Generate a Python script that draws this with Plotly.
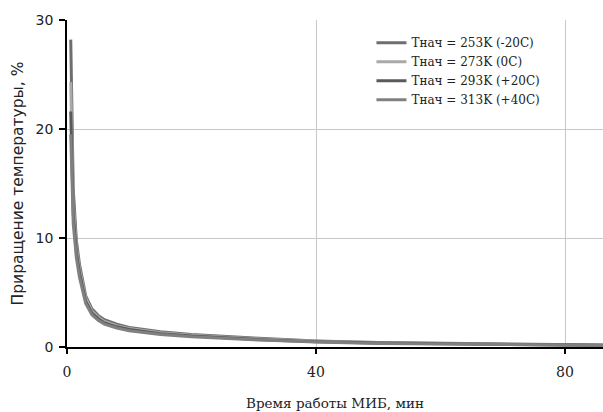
import plotly.graph_objects as go

t = [0.6, 1, 1.5, 2, 3, 4, 5, 6, 8, 10, 15, 20, 30, 40, 50, 60, 70, 80, 90]
names = ["Тнач = 253K (-20C)", "Тнач = 273K (0C)", "Тнач = 293K (+20C)", "Тнач = 313K (+40C)"]
v253 = [28.2, 14.5, 9.8, 7.6, 4.7, 3.5, 2.9, 2.5, 2.1, 1.8, 1.4, 1.15, 0.82, 0.56, 0.42, 0.33, 0.26, 0.2, 0.16]
v273 = [24.3, 13.2, 9.2, 7.2, 4.5, 3.3, 2.75, 2.35, 1.95, 1.7, 1.3, 1.08, 0.76, 0.52, 0.39, 0.3, 0.24, 0.18, 0.14]
v293 = [21.6, 12.2, 8.7, 6.8, 4.2, 3.1, 2.6, 2.2, 1.85, 1.6, 1.22, 1.0, 0.7, 0.48, 0.36, 0.28, 0.22, 0.17, 0.13]
v313 = [19.5, 11.3, 8.2, 6.4, 4.0, 2.95, 2.45, 2.1, 1.75, 1.5, 1.15, 0.94, 0.66, 0.45, 0.33, 0.26, 0.2, 0.15, 0.12]
series = [v253, v273, v293, v313]
colors = ["#6e6e6e", "#a9a9a9", "#5a5a5a", "#808080"]

fig = go.Figure()
for n, v, c in zip(names, series, colors):
    fig.add_trace(go.Scatter(x=t, y=v, mode="lines", name=n,
                             line=dict(color=c, width=3)))

fig.update_layout(
    width=603, height=412,
    margin=dict(l=67, r=0, t=20, b=65),
    paper_bgcolor="white", plot_bgcolor="white",
    showlegend=True,
    legend=dict(x=0.568, y=0.975, xanchor="left", yanchor="top",
                bgcolor="white", borderwidth=0,
                font=dict(family="DejaVu Serif", size=12, color="#222"),
                tracegroupgap=3, itemwidth=30),
    xaxis=dict(range=[0, 86.1], tickvals=[0, 40, 80],
               showgrid=True, gridcolor="#c8c8c8", gridwidth=1,
               showline=True, linecolor="black", linewidth=1.5,
               ticks="outside", ticklen=5, tickcolor="black", tickwidth=1.5,
               ticklabelstandoff=6,
               tickfont=dict(family="DejaVu Serif", size=14, color="#222"),
               zeroline=False,
               title=dict(text="Время работы МИБ, мин", standoff=20,
                          font=dict(family="DejaVu Serif", size=13.5, color="#222"))),
    yaxis=dict(range=[0, 30], tickvals=[0, 10, 20, 30],
               showgrid=True, gridcolor="#c8c8c8", gridwidth=1,
               showline=True, linecolor="black", linewidth=1.5,
               ticks="outside", ticklen=6, tickcolor="black", tickwidth=1.5,
               ticklabelstandoff=3,
               tickfont=dict(family="DejaVu Sans", size=14, color="#222"),
               zeroline=False,
               title=dict(text="Приращение температуры, %", standoff=8,
                          font=dict(family="DejaVu Sans", size=15.5, color="#222"))),
)

fig.write_html("out.html")
